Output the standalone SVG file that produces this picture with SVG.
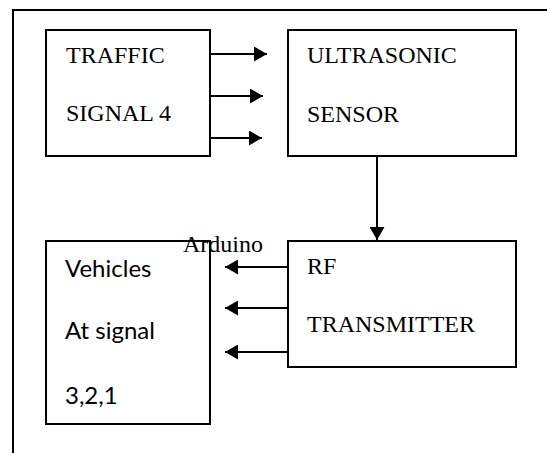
<svg xmlns="http://www.w3.org/2000/svg" width="547" height="453" viewBox="0 0 547 453">
<defs>
<marker id="ah" markerWidth="14" markerHeight="15" refX="13" refY="7.5" orient="auto" markerUnits="userSpaceOnUse">
<path d="M0,0 L13,7.5 L0,15 Z" fill="#000"/>
</marker>
</defs>
<style>
.box{fill:#fff;stroke:#000;stroke-width:2}
.t{font-family:"Liberation Serif","Times New Roman",serif;font-size:24px;fill:#000}
.s{font-family:Lato,"Liberation Sans",sans-serif;font-size:24px;fill:#000}
.c{stroke:#000;stroke-width:2;fill:none;marker-end:url(#ah)}
.frame{stroke:#000;stroke-width:2;fill:none}
</style>
<rect width="547" height="453" fill="#fff"/>
<path class="frame" d="M13,453 V10 H547"/>
<g id="traffic">
<rect class="box" x="46" y="30" width="164" height="126"/>
<text class="t" x="66" y="63">TRAFFIC</text>
<text class="t" x="66" y="121">SIGNAL 4</text>
</g>
<g id="ultrasonic">
<rect class="box" x="288" y="30" width="228" height="126"/>
<text class="t" x="307" y="63">ULTRASONIC</text>
<text class="t" x="307" y="122">SENSOR</text>
</g>
<g id="rf">
<rect class="box" x="288" y="241" width="228" height="126"/>
<text class="t" x="307" y="274">RF</text>
<text class="t" x="307" y="332">TRANSMITTER</text>
</g>
<g id="vehicles">
<rect class="box" x="46" y="241" width="164" height="183"/>
<text class="s" x="65" y="277">Vehicles</text>
<text class="s" x="65" y="339">At signal</text>
<text class="s" x="65" y="404">3,2,1</text>
</g>
<g id="connectors">
<line class="c" x1="210" y1="54" x2="267" y2="54"/>
<line class="c" x1="210" y1="96" x2="263" y2="96"/>
<line class="c" x1="210" y1="138" x2="262" y2="138"/>
<line class="c" x1="377" y1="156" x2="377" y2="240"/>
<line class="c" x1="288" y1="267" x2="225" y2="267"/>
<line class="c" x1="288" y1="308" x2="225" y2="308"/>
<line class="c" x1="288" y1="352" x2="225" y2="352"/>
</g>
<text class="t" x="183" y="252">Arduino</text>
</svg>
